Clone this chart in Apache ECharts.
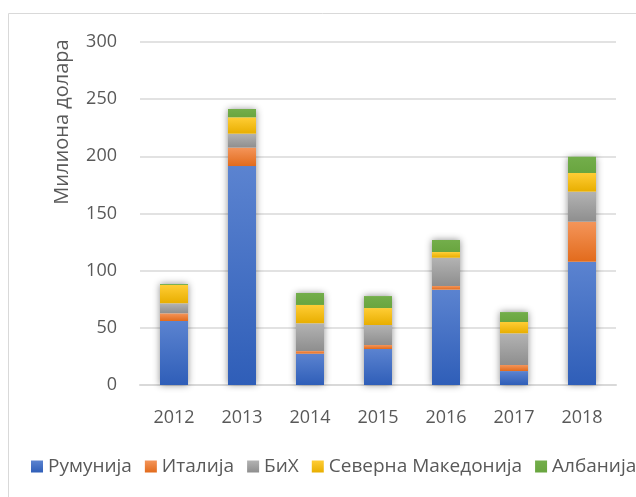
<!DOCTYPE html>
<html>
<head>
<meta charset="utf-8">
<script src="https://cdn.jsdelivr.net/npm/echarts@6/dist/echarts.min.js"></script>
<style>
  html, body { margin: 0; padding: 0; background: #fff; }
  #main { width: 636px; height: 497px; }
</style>
</head>
<body>
<div id="main"></div>
<script>
var chartDom = document.getElementById('main');
var myChart = echarts.init(chartDom);
var option;

// data (million dollars)
const years = ['2012', '2013', '2014', '2015', '2016', '2017', '2018'];
const seriesNames = ['Румунија', 'Италија', 'БиХ', 'Северна Македонија', 'Албанија'];
const romania = [56, 191.5, 27.4, 31.5, 83.4, 12.2, 107.8];
const italy = [6.7, 16.1, 2.3, 3.5, 3.2, 5.3, 35];
const bih = [8.8, 12.2, 24.3, 17.5, 24.7, 27.7, 26.3];
const macedonia = [16, 14.3, 16, 14.8, 5, 9.9, 16.3];
const albania = [0.8, 7.3, 10.5, 10.5, 10.5, 8.7, 14.3];
const yTicks = [0, 50, 100, 150, 200, 250, 300];

const allData = [romania, italy, bih, macedonia, albania];
const totals = years.map(function (y, i) {
  return allData.reduce(function (s, arr) { return s + arr[i]; }, 0);
});

// top -> bottom gradient stops per series
const shades = [
  ['#5b83d0', '#2f5eb8'],
  ['#f4955a', '#e26b1c'],
  ['#b3b3b3', '#8e8e8e'],
  ['#ffcd35', '#e8ae00'],
  ['#73ae4b', '#69a53f']
];

function grad(c) {
  return new echarts.graphic.LinearGradient(0, 0, 0, 1, [
    { offset: 0, color: c[0] },
    { offset: 1, color: c[1] }
  ]);
}

const textColor = '#595959';
const fontFamily = '"Open Sans", sans-serif';

// white bar behind each stack, only to carry the soft shadow
let series = [{
  name: 'shadow',
  type: 'bar',
  data: totals,
  barWidth: 28,
  barGap: '-100%',
  silent: true,
  z: 1,
  itemStyle: {
    color: '#ffffff',
    shadowColor: 'rgba(0,0,0,0.45)',
    shadowBlur: 7
  }
}];
seriesNames.forEach(function (name, k) {
  series.push({
    name: name,
    type: 'bar',
    stack: 'total',
    barWidth: 28,
    z: 2,
    data: allData[k],
    itemStyle: { color: grad(shades[k]) }
  });
});

option = {
  animation: false,
  textStyle: { fontFamily: fontFamily },
  grid: {
    left: 140,
    right: 20,
    top: 42,
    bottom: 112
  },
  legend: {
    data: seriesNames,
    left: 26,
    top: 452,
    width: 700,
    icon: 'rect',
    itemWidth: 12,
    itemHeight: 12,
    itemGap: 13,
    textStyle: { color: textColor, fontSize: 19, fontFamily: fontFamily }
  },
  xAxis: {
    type: 'category',
    data: years,
    axisTick: { show: false },
    axisLine: { lineStyle: { color: '#d9d9d9', width: 2 } },
    axisLabel: { color: textColor, fontSize: 18, margin: 24, fontFamily: fontFamily }
  },
  yAxis: {
    type: 'value',
    min: yTicks[0],
    max: yTicks[yTicks.length - 1],
    interval: 50,
    axisLine: { show: false },
    axisTick: { show: false },
    axisLabel: { color: textColor, fontSize: 18, margin: 23, fontFamily: fontFamily },
    splitLine: { lineStyle: { color: '#d9d9d9', width: 1.5 } }
  },
  graphic: [
    {
      type: 'rect',
      shape: { x: 8.5, y: 13.5, width: 700, height: 600 },
      style: { fill: 'none', stroke: '#d9d9d9', lineWidth: 1 },
      silent: true
    },
    {
      type: 'text',
      x: 62,
      y: 122,
      rotation: Math.PI / 2,
      style: {
        text: 'Милиона долара',
        fill: textColor,
        fontSize: 20,
        fontFamily: fontFamily,
        align: 'center',
        verticalAlign: 'middle'
      }
    }
  ],
  series: series
};

option && myChart.setOption(option);
</script>
</body>
</html>
